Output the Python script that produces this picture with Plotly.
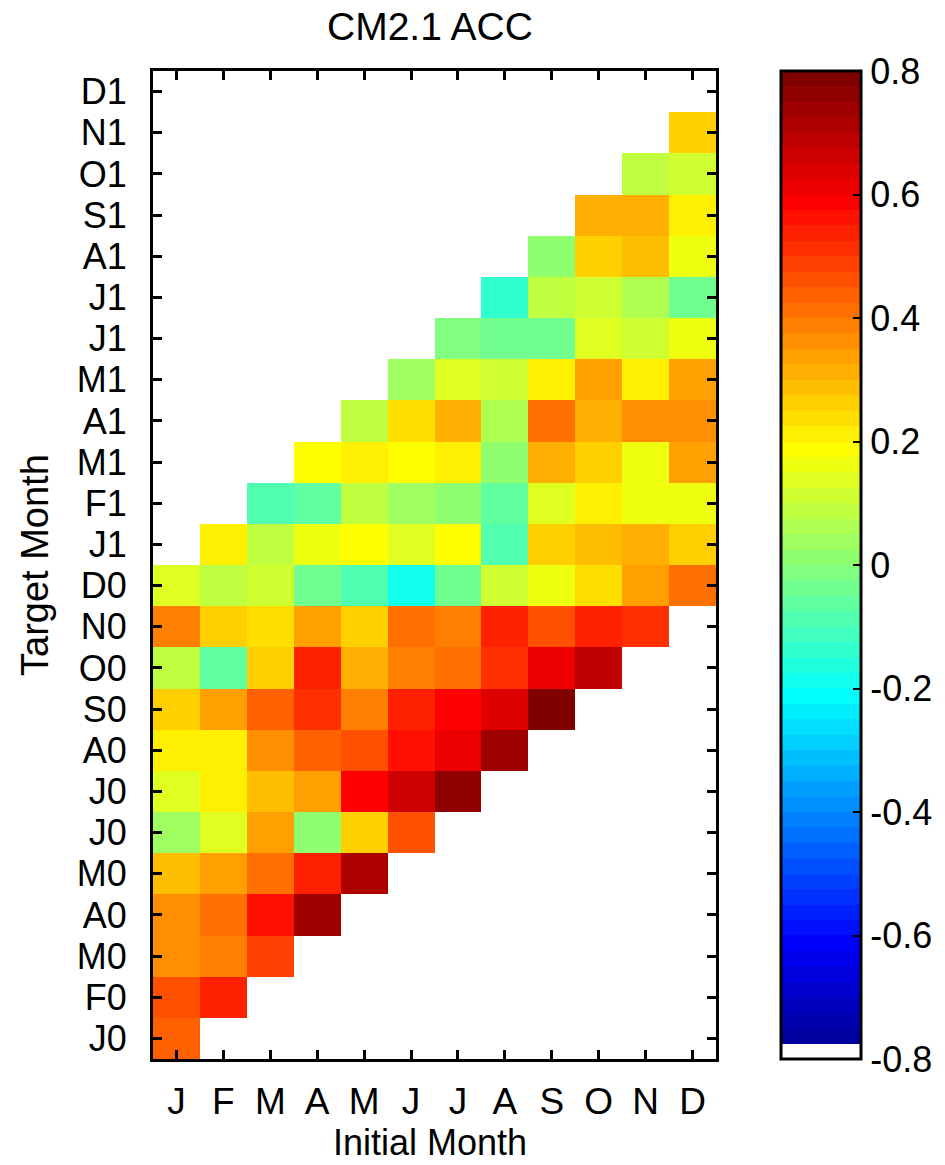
import numpy as np
import plotly.graph_objects as go

# Initial months (x) and target months (y, bottom to top)
init_months = ["J", "F", "M", "A", "M", "J", "J", "A", "S", "O", "N", "D"]
target_months = ["J0", "F0", "M0", "A0", "M0", "J0", "J0", "A0", "S0", "O0", "N0", "D0",
                 "J1", "F1", "M1", "A1", "M1", "J1", "J1", "A1", "S1", "O1", "N1", "D1"]

# ACC by initial month, for lead 0..11 (target = initial + lead)
acc_jan = [0.4375, 0.4625, 0.3625, 0.3625, 0.2875, 0.0375, 0.1375, 0.2125, 0.2625, 0.0875, 0.3875, 0.1375]
acc_feb = [0.5375, 0.3875, 0.4125, 0.3375, 0.1375, 0.2125, 0.2125, 0.3375, -0.0625, 0.2625, 0.0875, 0.2125]
acc_mar = [0.4875, 0.5625, 0.4125, 0.3375, 0.2875, 0.3625, 0.4375, 0.2625, 0.2375, 0.1125, 0.0875, -0.0875]
acc_apr = [0.7375, 0.5375, 0.0125, 0.3375, 0.4375, 0.5125, 0.5375, 0.3375, -0.0375, 0.1625, -0.0625, 0.1875]
acc_may = [0.7125, 0.2625, 0.5875, 0.4625, 0.3875, 0.3125, 0.2625, -0.0875, 0.1875, 0.0875, 0.2125, 0.0875]
acc_jun = [0.4625, 0.6625, 0.5625, 0.5375, 0.3875, 0.4125, -0.1875, 0.1375, 0.0375, 0.1875, 0.2375, 0.0375]
acc_jul = [0.7625, 0.6125, 0.5875, 0.4125, 0.3875, -0.0375, 0.1875, 0.0125, 0.2125, 0.3125, 0.1375, -0.0125]
acc_aug = [0.7375, 0.6375, 0.5125, 0.5375, 0.1125, -0.0875, -0.0625, 0.0125, 0.0625, 0.1125, -0.0375, -0.1375]
acc_sep = [0.7875, 0.6125, 0.4625, 0.1625, 0.2625, 0.1375, 0.3125, 0.4125, 0.2125, -0.0375, 0.0875, 0.0125]
acc_oct = [0.6875, 0.5375, 0.2375, 0.2875, 0.2125, 0.2625, 0.3125, 0.3375, 0.1375, 0.1125, 0.2625, 0.3125]
acc_nov = [0.5125, 0.3375, 0.3125, 0.1625, 0.1625, 0.3625, 0.2125, 0.1125, 0.0625, 0.2875, 0.3125, 0.0875]
acc_dec = [0.4125, 0.2625, 0.1625, 0.3375, 0.3625, 0.3375, 0.1625, -0.0375, 0.1625, 0.2125, 0.1125, 0.2625]

columns = [acc_jan, acc_feb, acc_mar, acc_apr, acc_may, acc_jun,
           acc_jul, acc_aug, acc_sep, acc_oct, acc_nov, acc_dec]

cbar_ticks = [-0.8, -0.6, -0.4, -0.2, 0, 0.2, 0.4, 0.6, 0.8]
cbar_text = ["-0.8", "-0.6", "-0.4", "-0.2", "0", "0.2", "0.4", "0.6", "0.8"]

# build matrix
z = np.full((len(target_months), len(init_months)), np.nan)
for c, col in enumerate(columns):
    for lead, v in enumerate(col):
        z[c + lead, c] = v

# MATLAB jet(64) with first entry white, as a discrete colorscale
def jet64():
    cols = []
    for k in range(1, 65):
        if k <= 8:
            r, g, b = 0, 0, 0.5 + k * 0.0625
        elif k <= 24:
            r, g, b = 0, (k - 8) * 0.0625, 1
        elif k <= 40:
            r, g, b = (k - 24) * 0.0625, 1, 1 - (k - 24) * 0.0625
        elif k <= 56:
            r, g, b = 1, 1 - (k - 40) * 0.0625, 0
        else:
            r, g, b = 1 - (k - 56) * 0.0625, 0, 0
        cols.append("rgb(%d,%d,%d)" % (round(r * 255), round(g * 255), round(b * 255)))
    cols[0] = "rgb(255,255,255)"
    return cols

cmap = jet64()
n = len(cmap)
colorscale = []
for i, c in enumerate(cmap):
    colorscale.append([i / n, c])
    colorscale.append([(i + 1) / n, c])

FONT = "Liberation Sans, Arial, sans-serif"

fig = go.Figure()
fig.add_trace(go.Heatmap(
    z=z,
    x=list(range(len(init_months))),
    y=list(range(len(target_months))),
    colorscale=colorscale,
    zmin=-0.8, zmax=0.8,
    hoverongaps=False,
    colorbar=dict(
        x=(781 - 153) / 563, xanchor="left", xref="paper",
        y=0.5, yanchor="middle", len=1, lenmode="fraction",
        thickness=80, thicknessmode="pixels",
        outlinewidth=3, outlinecolor="black",
        xpad=0, ypad=0,
        tickvals=cbar_ticks, ticktext=cbar_text,
        ticks="inside", ticklen=9, tickwidth=2, tickcolor="black",
        tickfont=dict(family=FONT, size=36, color="black"),
    ),
))

fig.update_layout(
    width=945, height=1165,
    margin=dict(l=153, r=229, t=71, b=106, autoexpand=False),
    paper_bgcolor="white", plot_bgcolor="white",
    font=dict(family=FONT, color="black"),
    xaxis=dict(
        range=[-0.5, 11.5], tickvals=list(range(12)), ticktext=init_months,
        ticks="inside", ticklen=9, tickwidth=3, tickcolor="black",
        showline=True, linewidth=3, linecolor="black", mirror="ticks",
        showgrid=False, zeroline=False, fixedrange=True,
        tickfont=dict(family=FONT, size=37, color="black"),
        ticklabelstandoff=8,
    ),
    yaxis=dict(
        range=[-0.5, 23.5], tickvals=list(range(24)), ticktext=target_months,
        ticks="inside", ticklen=9, tickwidth=3, tickcolor="black",
        showline=True, linewidth=3, linecolor="black", mirror="ticks",
        showgrid=False, zeroline=False, fixedrange=True,
        tickfont=dict(family=FONT, size=36, color="black"),
        ticklabelstandoff=16,
    ),
    annotations=[
        dict(text="CM2.1 ACC", xref="paper", yref="paper",
             x=(430 - 153) / 563, y=(1059 - 27) / 988, xanchor="center", yanchor="middle",
             showarrow=False, font=dict(family=FONT, size=39, color="black")),
        dict(text="Initial Month", xref="paper", yref="paper",
             x=(430 - 153) / 563, y=(1059 - 1142) / 988, xanchor="center", yanchor="middle",
             showarrow=False, font=dict(family=FONT, size=36, color="black")),
        dict(text="Target Month", xref="paper", yref="paper",
             x=(35 - 153) / 563, y=(1059 - 565) / 988, xanchor="center", yanchor="middle",
             textangle=-90, showarrow=False, font=dict(family=FONT, size=38, color="black")),
    ],
)

fig.write_html("out.html")
